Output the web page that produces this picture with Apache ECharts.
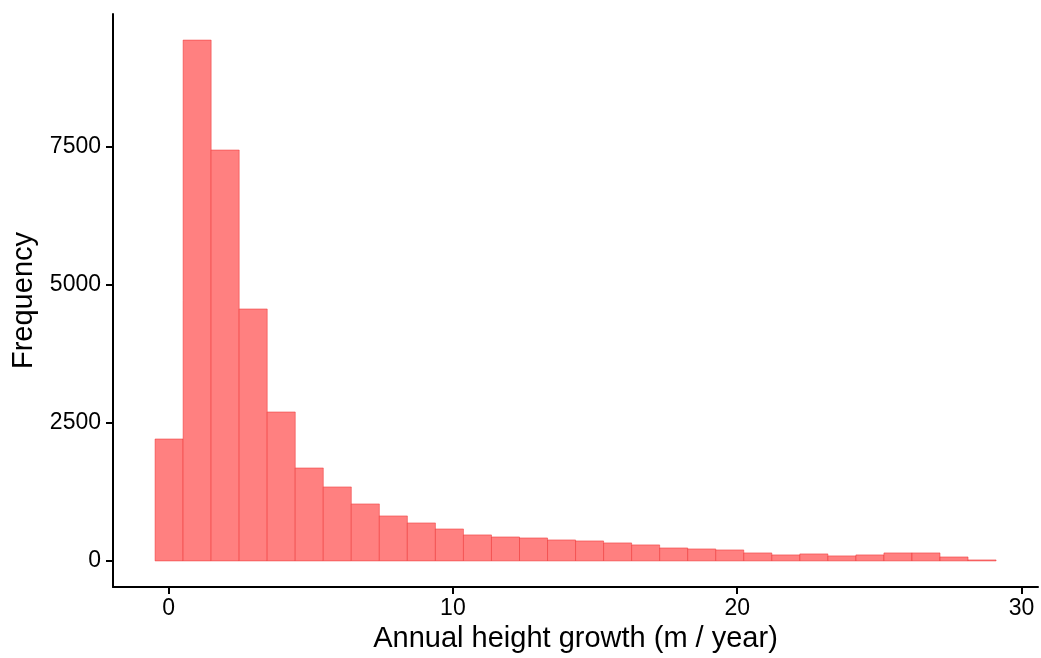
<!DOCTYPE html>
<html>
<head>
<meta charset="utf-8">
<script src="https://cdn.jsdelivr.net/npm/echarts@6/dist/echarts.min.js"></script>
<style>
  body { margin: 0; background: #fff; }
  #chart { width: 1041px; height: 658px; }
</style>
</head>
<body>
<div id="chart"></div>
<script>
// histogram bins (m / year) and counts
const binStart = -0.475;
const binWidth = 0.986;
const counts = [2208, 9431, 7440, 4562, 2697, 1683, 1340, 1032, 815, 688,
  579, 471, 434, 416, 380, 362, 326, 290, 235, 217,
  199, 145, 109, 127, 91, 109, 145, 145, 72, 18];
const xTicks = [0, 10, 20, 30];
const yTicks = [0, 2500, 5000, 7500];

const bars = counts.map((c, i) => [binStart + i * binWidth, binStart + (i + 1) * binWidth, c]);

const chart = echarts.init(document.getElementById('chart'));
const font = 'Liberation Sans, Arial, sans-serif';
const option = {
  animation: false,
  grid: { left: 113, right: 3, top: 14, bottom: 71, outerBoundsMode: 'none' },
  xAxis: {
    type: 'value',
    min: -1.955,
    max: 30.58,
    name: 'Annual height growth (m / year)',
    nameLocation: 'middle',
    nameGap: 37,
    nameTextStyle: { fontFamily: font, fontSize: 29, color: '#000' },
    axisLine: { onZero: false, lineStyle: { color: '#000', width: 2 } },
    axisTick: { customValues: xTicks, length: 7, lineStyle: { color: '#000', width: 2 } },
    axisLabel: { customValues: xTicks, fontFamily: font, fontSize: 23, color: '#000', margin: 10 },
    splitLine: { show: false },
  },
  yAxis: {
    type: 'value',
    min: -472,
    max: 9903,
    name: 'Frequency',
    nameLocation: 'middle',
    nameGap: 75,
    nameTextStyle: { fontFamily: font, fontSize: 29, color: '#000' },
    axisLine: { onZero: false, show: true, lineStyle: { color: '#000', width: 2 } },
    axisTick: { show: true, customValues: yTicks, length: 7, lineStyle: { color: '#000', width: 2 } },
    axisLabel: {
      customValues: yTicks,
      formatter: (v) => String(v),
      fontFamily: font,
      fontSize: 23,
      color: '#000',
      margin: 12,
    },
    splitLine: { show: false },
  },
  series: [
    {
      type: 'custom',
      data: bars,
      renderItem(params, api) {
        const p0 = api.coord([api.value(0), 0]);
        const p1 = api.coord([api.value(1), api.value(2)]);
        return {
          type: 'rect',
          shape: { x: p0[0], y: p1[1], width: p1[0] - p0[0], height: p0[1] - p1[1] },
          style: { fill: '#ff8080', stroke: 'rgba(235,40,40,0.8)', lineWidth: 0.6 },
        };
      },
    },
  ],
};
chart.setOption(option);
window.addEventListener('resize', () => {
  chart.resize();
});
</script>
</body>
</html>
